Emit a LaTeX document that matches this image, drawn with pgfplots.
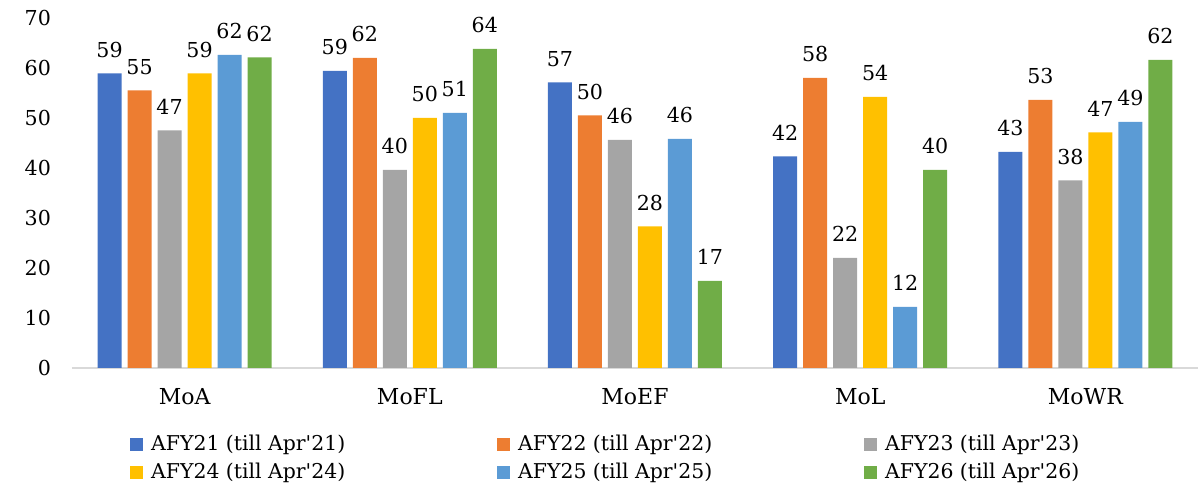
\documentclass[border=0pt]{standalone}
\usepackage{fontspec}
\setmainfont{DejaVu Serif}[Ligatures=TeXOff]
\usepackage{pgfplots}
\usepackage{pgfplotstable}
\pgfplotsset{compat=1.18}
\definecolor{cA}{HTML}{4472C4}
\definecolor{cB}{HTML}{ED7D31}
\definecolor{cC}{HTML}{A5A5A5}
\definecolor{cD}{HTML}{FFC000}
\definecolor{cE}{HTML}{5B9BD5}
\definecolor{cF}{HTML}{70AD47}
\definecolor{axgray}{HTML}{D9D9D9}
\pgfplotstableread{
x y m
0 58.9 59
1 59.4 59
2 57.1 57
3 42.3 42
4 43.2 43
}\tA
\pgfplotstableread{
x y m
0 55.5 55
1 62.0 62
2 50.5 50
3 58.0 58
4 53.6 53
}\tB
\pgfplotstableread{
x y m
0 47.5 47
1 39.6 40
2 45.6 46
3 22.0 22
4 37.5 38
}\tC
\pgfplotstableread{
x y m
0 58.9 59
1 50.0 50
2 28.3 28
3 54.2 54
4 47.1 47
}\tD
\pgfplotstableread{
x y m
0 62.6 62
1 51.0 51
2 45.8 46
3 12.2 12
4 49.2 49
}\tE
\pgfplotstableread{
x y m
0 62.1 62
1 63.8 64
2 17.4 17
3 39.6 40
4 61.6 62
}\tF
\begin{document}
\begin{tikzpicture}
\begin{axis}[
  scale only axis,
  width=563pt, height=175pt,
  xmin=-0.5, xmax=4.5,
  ymin=0, ymax=70,
  ybar=3pt, bar width=12pt,
  axis lines*=left,
  x axis line style={draw=axgray, line width=1.1pt},
  y axis line style={draw=none},
  major tick length=0pt,
  xtick={0,1,2,3,4},
  xticklabels={MoA,MoFL,MoEF,MoL,MoWR},
  ytick={0,10,...,70},
  /pgf/number format/assume math mode=true,
  xticklabel style={yshift=-6.5pt, font=\fontsize{11}{13}\selectfont},
  yticklabel style={xshift=-7pt, font=\fontsize{10.3}{12}\selectfont},
  point meta=explicit,
  nodes near coords,
  nodes near coords style={font=\fontsize{10.3}{12}\selectfont, yshift=4.5pt},
  clip=false,
  legend columns=3,
  legend style={draw=none, fill=none, inner sep=0pt, at={(rel axis cs:0,0)}, anchor=north west, xshift=29pt, yshift=-31.5pt,
    font=\fontsize{10.2}{12}\selectfont,
    /tikz/every odd column/.append style={column sep=2pt},
    /tikz/every even column/.append style={column sep=0pt},
    row sep=0.5pt},
  legend cell align=left,
  legend image code/.code={\fill[#1] (0pt,-3.2pt) rectangle (6.4pt,3.2pt);},
]
\addplot[fill=cA, draw=none] table[x=x,y=y,meta=m] {\tA};
\addplot[fill=cB, draw=none] table[x=x,y=y,meta=m] {\tB};
\addplot[fill=cC, draw=none] table[x=x,y=y,meta=m] {\tC};
\addplot[fill=cD, draw=none] table[x=x,y=y,meta=m] {\tD};
\addplot[fill=cE, draw=none] table[x=x,y=y,meta=m] {\tE};
\addplot[fill=cF, draw=none] table[x=x,y=y,meta=m] {\tF};
\legend{\makebox[171.1pt][l]{AFY21 (till Apr'21)},\makebox[171.1pt][l]{AFY22 (till Apr'22)},\makebox[110pt][l]{AFY23 (till Apr'23)},\makebox[171.1pt][l]{AFY24 (till Apr'24)},\makebox[171.1pt][l]{AFY25 (till Apr'25)},\makebox[110pt][l]{AFY26 (till Apr'26)}}
\end{axis}
\path (current axis.south west) ++(-36pt,-57pt) rectangle ++(600.5pt,241pt);
\end{tikzpicture}
\end{document}
